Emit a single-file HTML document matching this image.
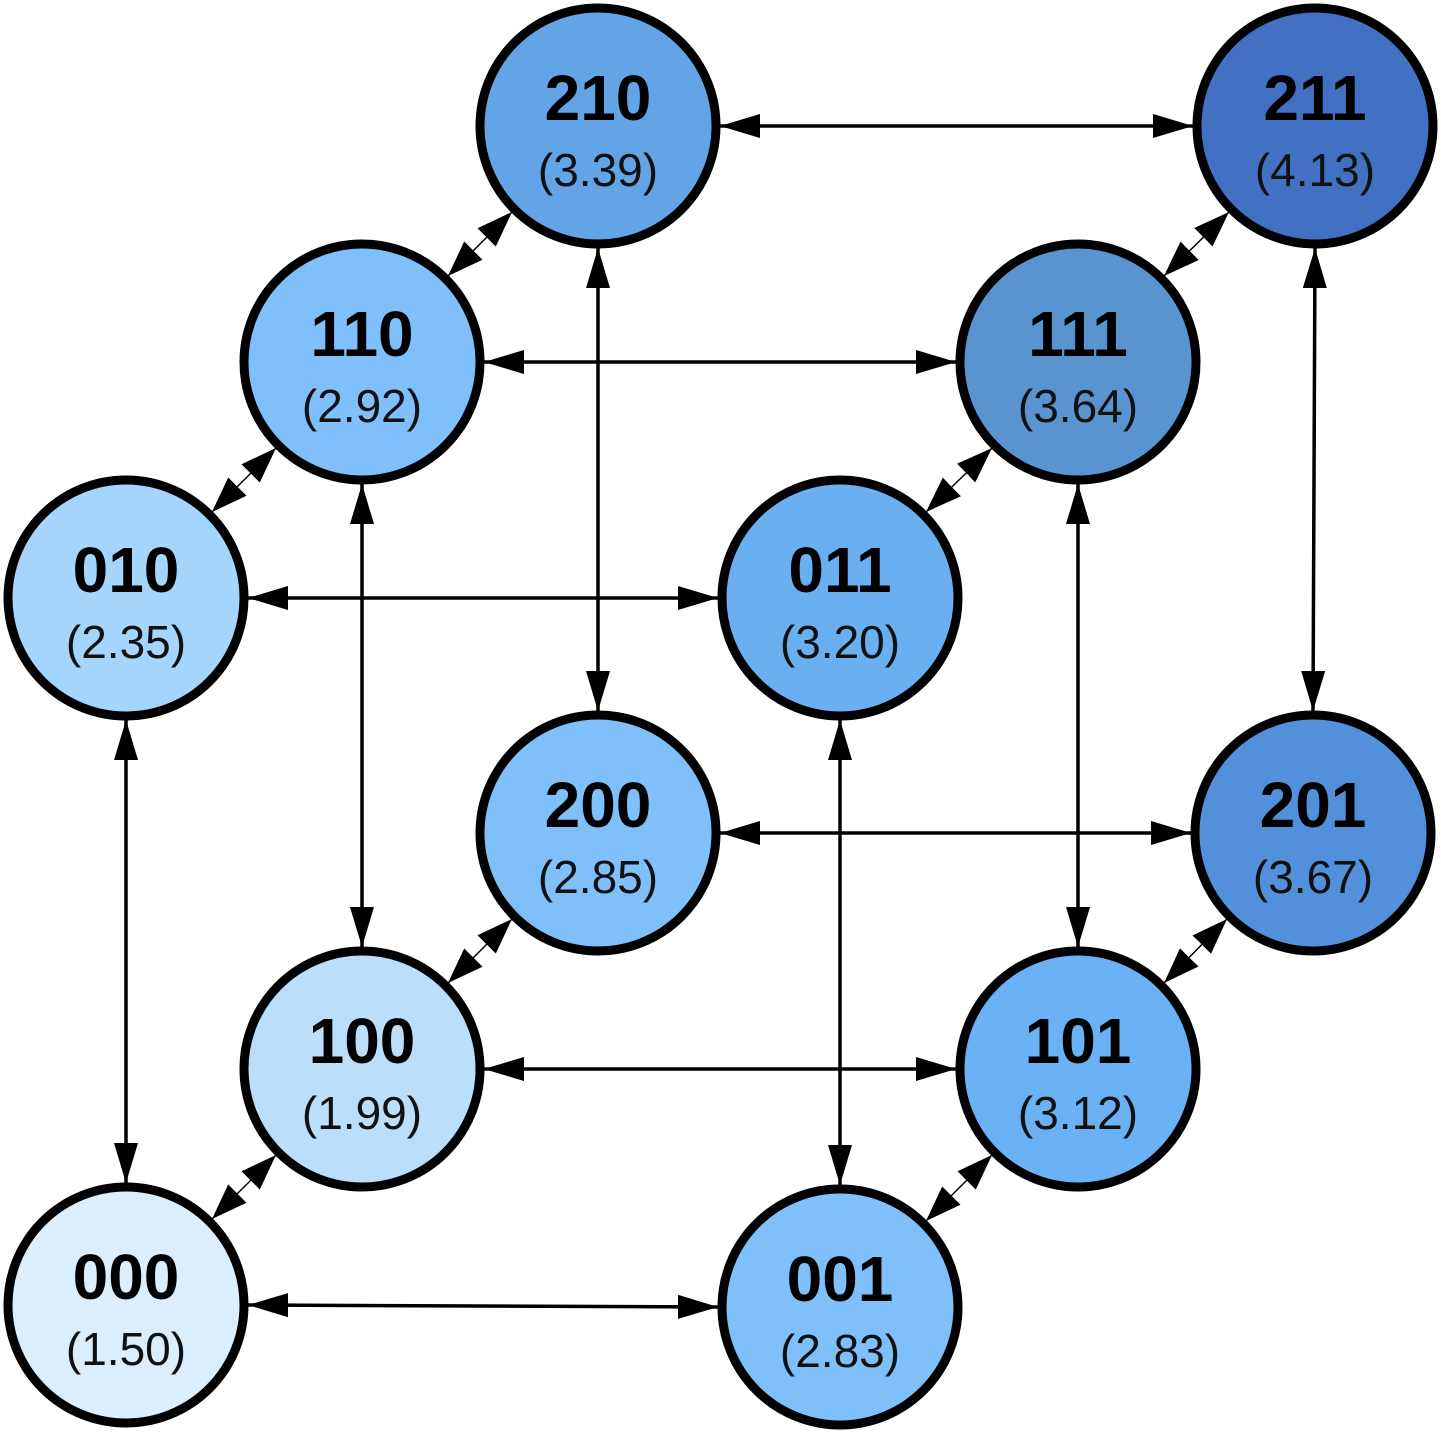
<!DOCTYPE html>
<html><head><meta charset="utf-8"><style>html,body{margin:0;padding:0;background:#fff}svg{display:block}</style></head>
<body>
<svg width="1441" height="1433" viewBox="0 0 1441 1433" xmlns="http://www.w3.org/2000/svg">
<defs>
<marker id="a" markerUnits="userSpaceOnUse" markerWidth="42" markerHeight="26" refX="40" refY="12" orient="auto-start-reverse"><path d="M0,0 L40,12 L0,24 z" fill="#000"/></marker>
<marker id="d" markerUnits="userSpaceOnUse" markerWidth="38" markerHeight="28" refX="36" refY="13" orient="auto-start-reverse"><path d="M0,0 L36,13 L0,26 z" fill="#000"/></marker>
</defs>
<g stroke="#000" stroke-width="3.5" fill="none" marker-start="url(#a)" marker-end="url(#a)">
<line x1="720" y1="126" x2="1193" y2="126"/>
<line x1="484" y1="362" x2="956" y2="362"/>
<line x1="248" y1="598" x2="718" y2="598"/>
<line x1="720" y1="833" x2="1191" y2="833"/>
<line x1="484" y1="1069" x2="956" y2="1069"/>
<line x1="248" y1="1305" x2="718" y2="1307"/>
<line x1="598" y1="248" x2="598" y2="711"/>
<line x1="1315" y1="248" x2="1313" y2="711"/>
<line x1="362" y1="484" x2="362" y2="947"/>
<line x1="1078" y1="484" x2="1078" y2="947"/>
<line x1="126" y1="720" x2="126" y2="1183"/>
<line x1="840" y1="720" x2="840" y2="1185"/>
</g>
<g stroke="#000" stroke-width="1.5" fill="none" marker-start="url(#d)" marker-end="url(#d)">
<line x1="512" y1="212" x2="448" y2="276"/>
<line x1="1229" y1="212" x2="1164" y2="276"/>
<line x1="276" y1="448" x2="212" y2="512"/>
<line x1="992" y1="448" x2="926" y2="512"/>
<line x1="512" y1="919" x2="448" y2="983"/>
<line x1="1227" y1="919" x2="1164" y2="983"/>
<line x1="276" y1="1155" x2="212" y2="1219"/>
<line x1="992" y1="1155" x2="926" y2="1221"/>
</g>
<g stroke="#000" stroke-width="9">
<circle cx="598" cy="126" r="118" fill="#62a4e6"/>
<circle cx="1315" cy="126" r="118" fill="#4271c4"/>
<circle cx="362" cy="362" r="118" fill="#7fbffb"/>
<circle cx="1078" cy="362" r="118" fill="#5a94d0"/>
<circle cx="126" cy="598" r="118" fill="#a5d4fd"/>
<circle cx="840" cy="598" r="118" fill="#6aaff0"/>
<circle cx="598" cy="833" r="118" fill="#80c0fa"/>
<circle cx="1313" cy="833" r="118" fill="#5290dc"/>
<circle cx="362" cy="1069" r="118" fill="#bbdefb"/>
<circle cx="1078" cy="1069" r="118" fill="#6ab2f5"/>
<circle cx="126" cy="1305" r="118" fill="#dbeefe"/>
<circle cx="840" cy="1307" r="118" fill="#80c0fa"/>
</g>
<g font-family="Liberation Sans, sans-serif" text-anchor="middle" fill="#000">
<g font-size="64" font-weight="bold">
<text x="598" y="120">210</text><text x="1315" y="120">211</text>
<text x="362" y="356">110</text><text x="1078" y="356">111</text>
<text x="126" y="592">010</text><text x="840" y="592">011</text>
<text x="598" y="827">200</text><text x="1313" y="827">201</text>
<text x="362" y="1063">100</text><text x="1078" y="1063">101</text>
<text x="126" y="1299">000</text><text x="840" y="1301">001</text>
</g>
<g font-size="46" fill="#111">
<text x="598" y="186">(3.39)</text><text x="1315" y="186">(4.13)</text>
<text x="362" y="422">(2.92)</text><text x="1078" y="422">(3.64)</text>
<text x="126" y="658">(2.35)</text><text x="840" y="658">(3.20)</text>
<text x="598" y="893">(2.85)</text><text x="1313" y="893">(3.67)</text>
<text x="362" y="1129">(1.99)</text><text x="1078" y="1129">(3.12)</text>
<text x="126" y="1365">(1.50)</text><text x="840" y="1367">(2.83)</text>
</g>
</g>
</svg>
</body></html>
